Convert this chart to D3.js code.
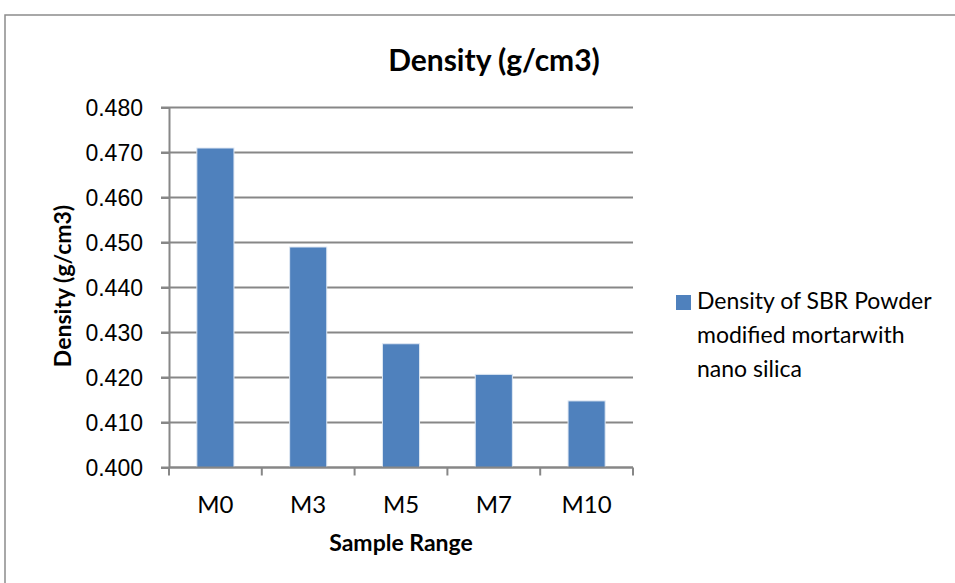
<!DOCTYPE html>
<html>
<head>
<meta charset="utf-8">
<script src="https://cdn.jsdelivr.net/npm/d3@7"></script>
<style>
  body { margin: 0; background: #fff; }
  svg { font-family: Lato, "Open Sans", sans-serif; }
  .grid line { stroke: #878787; stroke-width: 2; }
  .axis path, .axis line { stroke: #878787; stroke-width: 2; }
  .axis text { fill: #000; }
</style>
</head>
<body>
<div id="chart"></div>
<script>
var categories = ['M0', 'M3', 'M5', 'M7', 'M10']
var densities = [0.471, 0.449, 0.4275, 0.4207, 0.4148]
var yTicks = [0.400, 0.410, 0.420, 0.430, 0.440, 0.450, 0.460, 0.470, 0.480]
var seriesName = ['Density of SBR Powder', 'modified mortarwith', 'nano silica']

var conf = {
  width: 955,
  height: 583,
  left: 169,
  right: 633,
  top: 107.5,
  bottom: 467.5,
  barColor: '#4F81BD'
}

var svg = d3.select('#chart')
    .append('svg')
    .attr('width', conf.width)
    .attr('height', conf.height)

// outer chart border (runs off the right and bottom edges)
svg.append('rect')
  .attr('x', 5).attr('y', 15)
  .attr('width', 1000).attr('height', 700)
  .attr('fill', 'none')
  .attr('stroke', '#8c8c8c')
  .attr('stroke-width', 1.5)

var x = d3.scaleBand()
    .domain(categories)
    .range([conf.left, conf.right])
    .paddingInner(0.6)
    .paddingOuter(0.3)

var y = d3.scaleLinear()
    .domain([0.400, 0.480])
    .range([conf.bottom, conf.top])

// horizontal gridlines
svg.append('g')
  .attr('class', 'grid')
  .selectAll('line')
  .data(yTicks)
  .enter()
  .append('line')
  .attr('x1', conf.left - 8)
  .attr('x2', conf.right)
  .attr('y1', d => y(d))
  .attr('y2', d => y(d))

// bars
svg.selectAll('.bar')
  .data(densities)
  .enter()
  .append('rect')
  .attr('class', 'bar')
  .attr('x', (d, i) => x(categories[i]))
  .attr('y', d => y(d))
  .attr('width', x.bandwidth())
  .attr('height', d => conf.bottom - y(d))
  .attr('fill', conf.barColor)
  .attr('stroke', '#dfe8f3')
  .attr('stroke-width', 1)

// y axis
var yAxis = svg.append('g')
  .attr('class', 'axis')
  .attr('transform', 'translate(' + conf.left + ',0)')
  .call(d3.axisLeft(y).tickValues(yTicks).tickFormat(d3.format('.3f')).tickSize(8).tickSizeOuter(0))
yAxis.selectAll('text')
  .attr('x', -26)
  .attr('dy', '0.35em')
  .style('font-size', '23px')

// x axis with ticks between categories
var xAxis = svg.append('g')
  .attr('class', 'axis')
  .attr('transform', 'translate(0,' + conf.bottom + ')')
xAxis.append('line')
  .attr('x1', conf.left).attr('x2', conf.right)
var step = (conf.right - conf.left) / categories.length
xAxis.selectAll('.tk')
  .data(d3.range(categories.length + 1))
  .enter()
  .append('line')
  .attr('class', 'tk')
  .attr('x1', d => conf.left + d * step)
  .attr('x2', d => conf.left + d * step)
  .attr('y1', 0).attr('y2', 8)
xAxis.selectAll('text')
  .data(categories)
  .enter()
  .append('text')
  .attr('x', d => x(d) + x.bandwidth() / 2)
  .attr('y', 45)
  .attr('text-anchor', 'middle')
  .style('font-size', '24px')
  .text(d => d)

// titles
svg.append('text')
  .attr('x', 494).attr('y', 71)
  .attr('text-anchor', 'middle')
  .style('font-size', '30px').style('font-weight', 'bold')
  .text('Density (g/cm3)')

svg.append('text')
  .attr('x', 401).attr('y', 551)
  .attr('text-anchor', 'middle')
  .style('font-size', '23px').style('font-weight', 'bold')
  .text('Sample Range')

svg.append('text')
  .attr('transform', 'translate(71,286) rotate(-90)')
  .attr('text-anchor', 'middle')
  .style('font-size', '23px').style('font-weight', 'bold')
  .text('Density (g/cm3)')

// legend
var legend = svg.append('g').attr('transform', 'translate(676,295)')
legend.append('rect')
  .attr('width', 15).attr('height', 15)
  .attr('fill', conf.barColor)
legend.selectAll('text')
  .data(seriesName)
  .enter()
  .append('text')
  .attr('x', 21)
  .attr('y', (d, i) => 14 + i * 34)
  .style('font-size', '23px')
  .text(d => d)
</script>
</body>
</html>
